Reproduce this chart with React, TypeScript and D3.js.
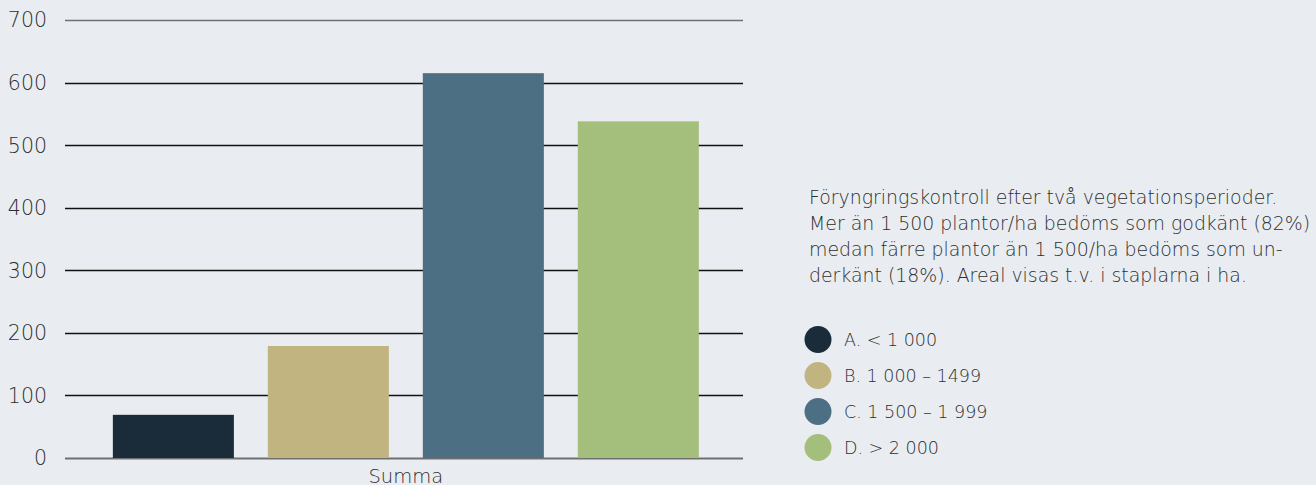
import React, { useEffect, useRef } from "react";
import * as d3 from "d3";

// categories and values
const categories = ["Summa"];
const seriesNames = ["A. < 1 000", "B. 1 000 – 1499", "C. 1 500 – 1 999", "D. > 2 000"];
const seriesValues = [69, 179, 615, 538];
const seriesColors = ["#1a2b3a", "#c2b481", "#4d6f84", "#a3bf7b"];
const yTicks = [0, 100, 200, 300, 400, 500, 600, 700];
const noteLines = [
  "Föryngringskontroll efter två vegetationsperioder.",
  "Mer än 1 500 plantor/ha bedöms som godkänt (82%)",
  "medan färre plantor än 1 500/ha bedöms som un-",
  "derkänt (18%). Areal visas t.v. i staplarna i ha.",
];

export default function App() {
  const ref = useRef<SVGSVGElement>(null);

  useEffect(() => {
    document.body.style.margin = "0";
    document.body.style.background = "#e9edf2";

    const width = 1316;
    const height = 485;
    const font = "'DejaVu Sans', sans-serif";
    const textColor = "#2e2e2e";

    const svg = d3.select(ref.current);
    svg.selectAll("*").remove();

    svg.append("rect").attr("width", width).attr("height", height).attr("fill", "#e9edf2");

    const y = d3.scaleLinear().domain([0, 700]).range([458, 20]);
    const x = d3
      .scaleBand()
      .domain(categories)
      .range([65, 743])
      .paddingInner(0)
      .paddingOuter(0.0785)
      .align(0.52);
    const xs = d3
      .scaleBand()
      .domain(seriesNames)
      .range([0, x.bandwidth()])
      .paddingInner(0.219)
      .paddingOuter(0);

    // grid lines
    svg
      .append("g")
      .selectAll("line")
      .data(yTicks)
      .join("line")
      .attr("x1", 65)
      .attr("x2", 743)
      .attr("y1", (d) => Math.round(y(d)) + 0.5)
      .attr("y2", (d) => Math.round(y(d)) + 0.5)
      .attr("stroke", (d) => (d === 0 || d === 700 ? "#707070" : "#111"))
      .attr("stroke-width", (d) => (d === 0 ? 2 : 1.3));

    // tick labels
    svg
      .append("g")
      .selectAll("text")
      .data(yTicks)
      .join("text")
      .attr("x", 47)
      .attr("y", (d) => y(d))
      .attr("dy", "0.36em")
      .attr("text-anchor", "end")
      .style("font", `200 20.5px ${font}`)
      .attr("fill", textColor)
      .text((d) => d);

    // bars
    const groups = svg
      .append("g")
      .selectAll("g")
      .data(categories)
      .join("g")
      .attr("transform", (d) => `translate(${x(d)},0)`);

    groups
      .selectAll("rect")
      .data(seriesValues.map((v, i) => ({ name: seriesNames[i], value: v, color: seriesColors[i] })))
      .join("rect")
      .attr("x", (d) => xs(d.name)!)
      .attr("width", xs.bandwidth())
      .attr("y", (d) => y(d.value))
      .attr("height", (d) => y(0) - y(d.value))
      .attr("fill", (d) => d.color);

    // category label
    svg
      .append("g")
      .selectAll("text")
      .data(categories)
      .join("text")
      .attr("x", (d) => x(d)! + x.bandwidth() / 2)
      .attr("y", 483)
      .attr("text-anchor", "middle")
      .style("font", `200 19.5px ${font}`)
      .attr("fill", textColor)
      .text((d) => d);

    // note text
    svg
      .append("g")
      .selectAll("text")
      .data(noteLines)
      .join("text")
      .attr("x", 809)
      .attr("y", (_, i) => 204 + i * 26)
      .style("font", `200 18.9px ${font}`)
      .attr("fill", textColor)
      .text((d) => d);

    // legend
    const legend = svg
      .append("g")
      .selectAll("g")
      .data(seriesNames)
      .join("g")
      .attr("transform", (_, i) => `translate(818,${339.5 + i * 36})`);
    legend
      .append("circle")
      .attr("r", 13.5)
      .attr("fill", (_, i) => seriesColors[i]);
    legend
      .append("text")
      .attr("x", 26)
      .attr("dy", "0.36em")
      .style("font", `200 17.5px ${font}`)
      .attr("fill", textColor)
      .text((d) => d);
  }, []);

  return <svg ref={ref} width={1316} height={485} style={{ display: "block" }} />;
}
